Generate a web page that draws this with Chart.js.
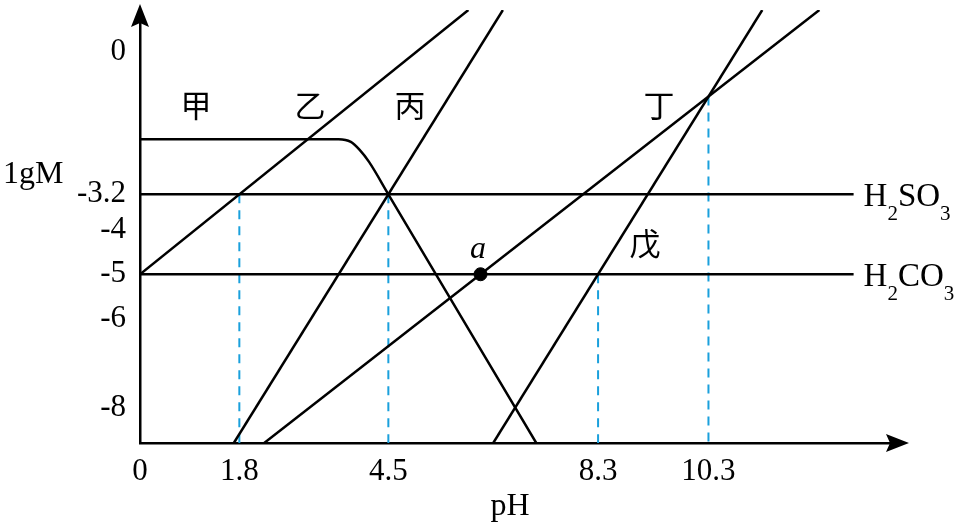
<!DOCTYPE html>
<html>
<head>
<meta charset="utf-8">
<script src="https://cdn.jsdelivr.net/npm/chart.js@4.4.1/dist/chart.umd.min.js"></script>
<style>
  html, body { margin: 0; padding: 0; background: #fff; }
  #wrap { width: 965px; height: 527px; }
</style>
</head>
<body>
<div id="wrap"><canvas id="grafico" width="965" height="527"></canvas></div>
<script>
// ejes
const xTicks = [0, 1.8, 4.5, 8.3, 10.3];
const yTicks = [0, -3.2, -4, -5, -6, -8];
const xMin = 0, xMax = 13.68;
const yMin = -8.8, yMax = 0.95;

// rectas horizontales de los ácidos
const acidNames = ['H2SO3', 'H2CO3'];
const acidLevels = [-3.2, -5];
const acidEndX = 12.93;

// curva con meseta (lgM del primer compuesto)
const curveX = [0, 3.6, 3.82, 3.98, 4.15, 4.5, 7.18];
const curveY = [-1.96, -1.96, -2.02, -2.2, -2.47, -3.2, -8.8];

// rectas inclinadas: [x inicio, y inicio, x fin, y fin]
const lineJia  = [0, -5, 5.95, 0.95];
const lineYi   = [1.7, -8.8, 6.575, 0.95];
const lineBing = [2.25, -8.8, 12.31, 0.95];
const lineWu   = [6.4, -8.8, 11.275, 0.95];

// líneas discontinuas (pH de los puntos de corte)
const dashX = [1.8, 4.5, 8.3, 10.3];
const dashTopY = [-3.2, -3.2, -5, -1];

// punto a
const pointA = {x: 6.17, y: -5};

const serif = '"Liberation Serif", "Times New Roman", serif';
const cjk = '"Noto Sans CJK SC", sans-serif';

function recta(r) {
    return [{x: r[0], y: r[1]}, {x: r[2], y: r[3]}];
}

function lineaNegra(data) {
    return {
        data: data,
        showLine: true,
        borderColor: '#000',
        borderWidth: 2.5,
        pointRadius: 0,
        fill: false
    };
}

let datasets = [];
for (let i = 0; i < acidLevels.length; i++) {
    datasets.push(lineaNegra([{x: 0, y: acidLevels[i]}, {x: acidEndX, y: acidLevels[i]}]));
}
let curva = lineaNegra(curveX.map((x, i) => ({x: x, y: curveY[i]})));
curva.cubicInterpolationMode = 'monotone';
datasets.push(curva);
datasets.push(lineaNegra(recta(lineJia)));
datasets.push(lineaNegra(recta(lineYi)));
datasets.push(lineaNegra(recta(lineBing)));
datasets.push(lineaNegra(recta(lineWu)));
for (let i = 0; i < dashX.length; i++) {
    datasets.push({
        data: [{x: dashX[i], y: dashTopY[i]}, {x: dashX[i], y: yMin}],
        showLine: true,
        borderColor: '#1aa0dc',
        borderWidth: 2,
        borderDash: [9, 7],
        pointRadius: 0
    });
}
datasets.push({
    data: [pointA],
    pointRadius: 6.5,
    pointBackgroundColor: '#000',
    pointBorderColor: '#000',
    showLine: false
});

// texto con subíndices (H2SO3 ...)
function textoQuimico(ctx, texto, x, base) {
    let cx = x;
    for (const ch of texto) {
        if (/[0-9]/.test(ch)) {
            ctx.font = '21px ' + serif;
            ctx.fillText(ch, cx, base + 14);
        } else {
            ctx.font = '33px ' + serif;
            ctx.fillText(ch, cx, base);
        }
        cx += ctx.measureText(ch).width;
    }
}

const extras = {
    id: 'extras',
    afterDraw(chart) {
        const ctx = chart.ctx;
        const a = chart.chartArea;
        ctx.save();
        ctx.fillStyle = '#000';

        // flechas de los ejes
        ctx.beginPath();
        ctx.moveTo(a.left, 4);
        ctx.lineTo(a.left - 9, 27);
        ctx.lineTo(a.left, 23);
        ctx.lineTo(a.left + 9, 27);
        ctx.closePath();
        ctx.fill();
        ctx.beginPath();
        ctx.moveTo(909, a.bottom);
        ctx.lineTo(886, a.bottom - 9);
        ctx.lineTo(890, a.bottom);
        ctx.lineTo(886, a.bottom + 9);
        ctx.closePath();
        ctx.fill();

        // títulos de ejes
        ctx.textBaseline = 'alphabetic';
        ctx.textAlign = 'left';
        ctx.font = '32px ' + serif;
        ctx.fillText('1gM', 3, 183);
        ctx.textAlign = 'center';
        ctx.fillText('pH', 510, 515);

        // etiquetas de las curvas
        ctx.font = '31px ' + cjk;
        ctx.textBaseline = 'middle';
        ctx.fillText('甲', 196, 105);
        ctx.fillText('乙', 310, 105);
        ctx.fillText('丙', 410, 105);
        ctx.fillText('丁', 659, 105);
        ctx.fillText('戊', 645, 243);

        ctx.font = 'italic 32px ' + serif;
        ctx.fillText('a', 478, 250);

        // nombres de los ácidos
        ctx.textAlign = 'left';
        ctx.textBaseline = 'alphabetic';
        const sx = chart.scales.x, sy = chart.scales.y;
        for (let i = 0; i < acidNames.length; i++) {
            const py = sy.getPixelForValue(acidLevels[i]);
            textoQuimico(ctx, acidNames[i], sx.getPixelForValue(acidEndX) + 10, py + 12);
        }
        ctx.restore();
    }
};

new Chart(document.getElementById('grafico'), {
    type: 'scatter',
    data: {datasets: datasets},
    options: {
        responsive: false,
        animation: false,
        events: [],
        layout: {padding: {top: 10, right: 70, left: 0, bottom: 0}},
        plugins: {legend: {display: false}, tooltip: {enabled: false}},
        scales: {
            x: {
                type: 'linear',
                min: xMin,
                max: xMax,
                grid: {display: false, drawTicks: false},
                border: {display: true, color: '#000', width: 2.5},
                afterBuildTicks: function(scale) {
                    scale.ticks = xTicks.map(v => ({value: v}));
                },
                afterFit: function(scale) {
                    scale.height = 84;
                    scale.paddingLeft = 0;
                    scale.paddingRight = 0;
                },
                ticks: {
                    autoSkip: false,
                    maxRotation: 0,
                    padding: 10,
                    color: '#000',
                    font: {family: serif, size: 31},
                    callback: v => String(v)
                }
            },
            y: {
                type: 'linear',
                min: yMin,
                max: yMax,
                grid: {display: false, drawTicks: false},
                border: {display: true, color: '#000', width: 2.5},
                afterBuildTicks: function(scale) {
                    scale.ticks = yTicks.map(v => ({value: v}));
                },
                afterFit: function(scale) {
                    scale.width = 140;
                    scale.paddingTop = 0;
                    scale.paddingBottom = 0;
                },
                ticks: {
                    autoSkip: false,
                    padding: 14,
                    color: '#000',
                    font: {family: serif, size: 31},
                    callback: v => String(v)
                }
            }
        }
    },
    plugins: [extras]
});
</script>
</body>
</html>
